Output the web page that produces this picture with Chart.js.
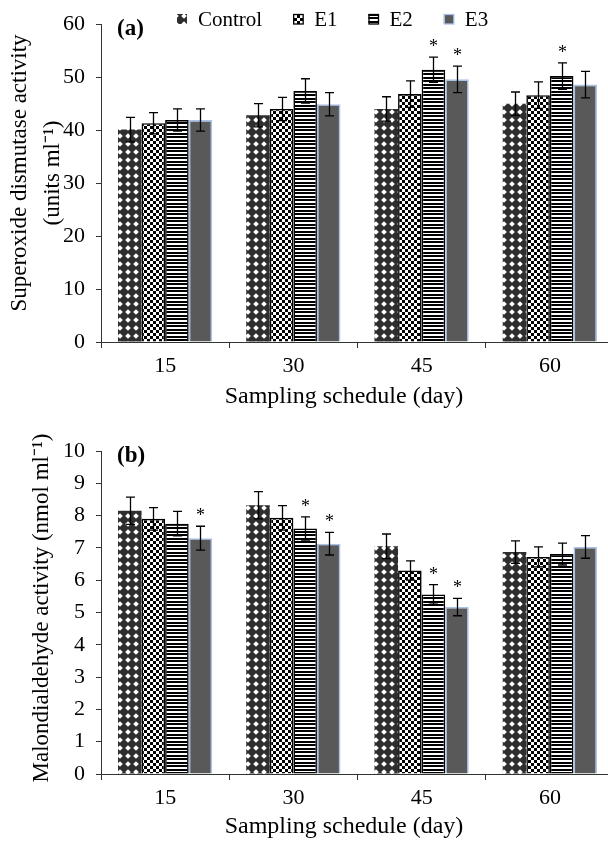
<!DOCTYPE html>
<html><head><meta charset="utf-8">
<script src="https://cdn.jsdelivr.net/npm/chart.js@4.4.0/dist/chart.umd.min.js"></script>
<style>
html,body{margin:0;padding:0;overflow:hidden;background:#fff;width:608px;height:843px;}
canvas{position:absolute;left:0;}
#ca{top:0;}
#cb{top:412px;}
</style></head><body>
<canvas id="ca" width="620" height="412"></canvas>
<canvas id="cb" width="620" height="431"></canvas>
<script>
// ---------- data ----------
const days = ['15', '30', '45', '60'];
const seriesNames = ['Control', 'E1', 'E2', 'E3'];
const xTitleText = 'Sampling schedule (day)';

// (a) Superoxide dismutase activity (units ml-1)
const sodControl = [40.1, 42.8, 44.0, 45.0];
const sodE1      = [41.3, 44.0, 46.8, 46.6];
const sodE2      = [41.9, 47.4, 51.4, 50.2];
const sodE3      = [41.9, 44.9, 49.6, 48.6];
const sodControlErr = [2.3, 2.2, 2.3, 2.2];
const sodE1Err      = [2.0, 2.2, 2.5, 2.5];
const sodE2Err      = [2.1, 2.3, 2.4, 2.5];
const sodE3Err      = [2.1, 2.2, 2.5, 2.5];
const sodControlSig = ['', '', '', ''];
const sodE1Sig      = ['', '', '', ''];
const sodE2Sig      = ['', '', '*', '*'];
const sodE3Sig      = ['', '', '*', ''];
const sodYTitle = ['Superoxide dismutase activity', '(units ml\u207B\u00B9)'];

// (b) Malondialdehyde activity (nmol ml-1)
const mdaControl = [8.15, 8.32, 7.05, 6.87];
const mdaE1      = [7.9, 7.93, 6.3, 6.72];
const mdaE2      = [7.75, 7.6, 5.56, 6.81];
const mdaE3      = [7.3, 7.13, 5.17, 7.03];
const mdaControlErr = [0.42, 0.42, 0.38, 0.35];
const mdaE1Err      = [0.35, 0.38, 0.30, 0.31];
const mdaE2Err      = [0.38, 0.36, 0.30, 0.34];
const mdaE3Err      = [0.37, 0.35, 0.27, 0.35];
const mdaControlSig = ['', '', '', ''];
const mdaE1Sig      = ['', '', '', ''];
const mdaE2Sig      = ['', '*', '*', ''];
const mdaE3Sig      = ['*', '*', '*', ''];
const mdaYTitle = ['Malondialdehyde activity (nmol ml\u207B\u00B9)'];

const sodTicks = {min: 0, max: 60, step: 10};
const mdaTicks = {min: 0, max: 10, step: 1};

// ---------- patterns ----------
function tile(w, h, draw) {
  const c = document.createElement('canvas'); c.width = w; c.height = h;
  draw(c.getContext('2d'), w, h); return c;
}
function makePatterns(ctx) {
  const dots = ctx.createPattern(tile(8, 8, g => {
    g.fillStyle = '#2e2e2e'; g.fillRect(0, 0, 8, 8);
    g.fillStyle = '#fff';
    [[0,0],[8,0],[0,8],[8,8]].forEach(([cx, cy]) => {
      g.beginPath(); g.moveTo(cx, cy - 2.8); g.lineTo(cx + 2.8, cy);
      g.lineTo(cx, cy + 2.8); g.lineTo(cx - 2.8, cy); g.closePath(); g.fill();
    });
  }), 'repeat');
  const checker = ctx.createPattern(tile(6, 6, g => {
    g.fillStyle = '#fff'; g.fillRect(0, 0, 6, 6);
    g.fillStyle = '#000'; g.fillRect(0, 0, 3, 3); g.fillRect(3, 3, 3, 3);
  }), 'repeat');
  const stripes = ctx.createPattern(tile(7, 7, g => {
    g.fillStyle = '#fff'; g.fillRect(0, 0, 7, 7);
    g.fillStyle = '#000'; g.fillRect(0, 0, 7, 2); g.fillRect(0, 3, 7, 2);
  }), 'repeat');
  return {dots, checker, stripes};
}

const FONT = 'Liberation Serif';

function buildDatasets(ctx, vals, errs, sigs) {
  const p = makePatterns(ctx);
  const fills = [p.dots, p.checker, p.stripes, '#595959'];
  const borders = ['rgba(0,0,0,0)', '#000', '#000', '#a9c2ea'];
  const bw = [0, 1.6, 1.6, 1.6];
  return seriesNames.map((n, i) => ({
    label: n, data: vals[i], errors: errs[i], marks: sigs[i],
    backgroundColor: fills[i], borderColor: borders[i], borderWidth: bw[i],
    categoryPercentage: 0.735, barPercentage: 1.0
  }));
}

const errPlugin = {
  id: 'errbars',
  afterDatasetsDraw(chart) {
    const ctx = chart.ctx, ys = chart.scales.y;
    ctx.save();
    chart.data.datasets.forEach((ds, i) => {
      const meta = chart.getDatasetMeta(i);
      meta.data.forEach((bar, j) => {
        const v = ds.data[j], e = ds.errors[j];
        const yt = ys.getPixelForValue(v + e), yb = ys.getPixelForValue(v - e);
        const x = Math.round(bar.x) + 0.5;
        ctx.strokeStyle = '#000'; ctx.lineWidth = 1.3;
        ctx.beginPath();
        ctx.moveTo(x, yt); ctx.lineTo(x, yb);
        ctx.moveTo(x - 4.5, yt); ctx.lineTo(x + 4.5, yt);
        ctx.moveTo(x - 4.5, yb); ctx.lineTo(x + 4.5, yb);
        ctx.stroke();
        if (ds.marks[j]) {
          ctx.fillStyle = '#000'; ctx.font = '18px "' + FONT + '"';
          ctx.textAlign = 'center'; ctx.textBaseline = 'alphabetic';
          ctx.fillText(ds.marks[j], x, yt - 5);
        }
      });
    });
    ctx.restore();
  }
};

const panelText = {
  id: 'panelText',
  afterDraw(chart, args, o) {
    const ctx = chart.ctx, a = chart.chartArea;
    ctx.save();
    ctx.fillStyle = '#000';
    // panel label
    ctx.font = 'bold 23px "' + FONT + '"';
    ctx.textAlign = 'left'; ctx.textBaseline = 'middle';
    ctx.fillText(o.panel, a.left + 16, a.top + 5);
    // x title
    ctx.font = '24px "' + FONT + '"';
    ctx.textAlign = 'center';
    ctx.fillText(xTitleText, o.xTitleX, o.xTitleY);
    // y title (rotated)
    ctx.font = '23px "' + FONT + '"';
    o.yLines.forEach((t, k) => {
      ctx.save();
      ctx.translate(o.yTitleXs[k], o.yTitleY);
      ctx.rotate(-Math.PI / 2);
      ctx.fillText(t, 0, 0);
      ctx.restore();
    });
    ctx.restore();
  }
};

const customLegend = {
  id: 'customLegend',
  afterDraw(chart, args, opts) {
    if (!opts.show) return;
    const ctx = chart.ctx;
    ctx.save();
    ctx.font = '21px "' + FONT + '"';
    ctx.textBaseline = 'middle'; ctx.textAlign = 'left';
    let x = opts.x; const y = opts.y;
    chart.data.datasets.forEach(ds => {
      ctx.fillStyle = ds.backgroundColor;
      ctx.fillRect(x, y - 6, 10, 10);
      if (ds.borderWidth > 0) {
        ctx.strokeStyle = ds.borderColor; ctx.lineWidth = 1.3;
        ctx.strokeRect(x + 0.5, y - 5.5, 9.5, 9.5);
      }
      ctx.fillStyle = '#000';
      ctx.fillText(ds.label, x + 21, y);
      x += 21 + ctx.measureText(ds.label).width + 31;
    });
    ctx.restore();
  }
};

function makeChart(id, vals, errs, sigs, tk, text, legend, layoutTop, xHeight) {
  const canvas = document.getElementById(id);
  const ctx = canvas.getContext('2d');
  return new Chart(ctx, {
    type: 'bar',
    data: {labels: days, datasets: buildDatasets(ctx, vals, errs, sigs)},
    options: {
      responsive: false, animation: false, devicePixelRatio: 1, events: [],
      layout: {padding: {top: layoutTop, right: 6, left: 0, bottom: 0}},
      plugins: {
        legend: {display: false}, tooltip: {enabled: false},
        panelText: text,
        customLegend: legend
      },
      scales: {
        x: {
          grid: {display: true, drawOnChartArea: false, drawTicks: true, tickLength: 6, color: '#333', offset: true},
          border: {display: true, color: '#333', width: 1},
          ticks: {color: '#000', font: {family: FONT, size: 22}, padding: 5, maxRotation: 0},
          afterFit: s => { s.height = xHeight; }
        },
        y: {
          min: tk.min, max: tk.max,
          grid: {display: true, drawOnChartArea: false, drawTicks: true, tickLength: 5, color: '#333'},
          border: {display: true, color: '#333', width: 1},
          ticks: {stepSize: tk.step, color: '#000', font: {family: FONT, size: 22}, padding: 11},
          afterFit: s => { s.width = 101; }
        }
      }
    },
    plugins: [errPlugin, panelText, customLegend]
  });
}

makeChart('ca',
  [sodControl, sodE1, sodE2, sodE3],
  [sodControlErr, sodE1Err, sodE2Err, sodE3Err],
  [sodControlSig, sodE1Sig, sodE2Sig, sodE3Sig],
  sodTicks,
  {panel: '(a)', xTitleX: 344, xTitleY: 397, yLines: sodYTitle, yTitleXs: [20, 53], yTitleY: 173},
  {show: true, x: 177, y: 20}, 19, 70);

makeChart('cb',
  [mdaControl, mdaE1, mdaE2, mdaE3],
  [mdaControlErr, mdaE1Err, mdaE2Err, mdaE3Err],
  [mdaControlSig, mdaE1Sig, mdaE2Sig, mdaE3Sig],
  mdaTicks,
  {panel: '(b)', xTitleX: 344, xTitleY: 415, yLines: mdaYTitle, yTitleXs: [42], yTitleY: 196},
  {show: false}, 39, 69);
</script>
</body></html>
